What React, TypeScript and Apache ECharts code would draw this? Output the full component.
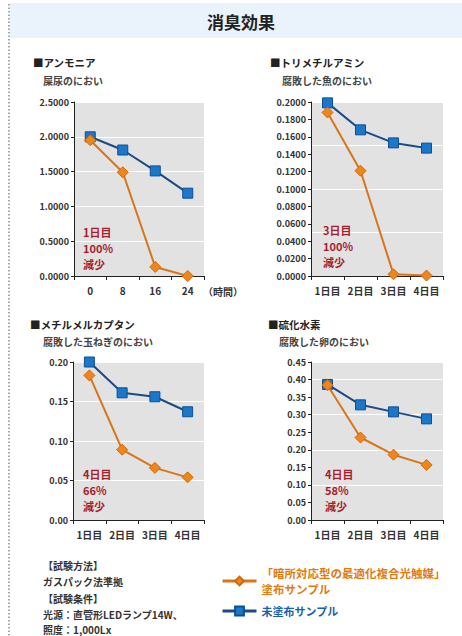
import React, { useEffect, useRef } from "react";
import * as echarts from "echarts";

const hourCats = ["0", "8", "16", "24"];
const dayCats = ["1日目", "2日目", "3日目", "4日目"];

const ammoniaCoated = [1.95, 1.49, 0.13, 0.0];
const ammoniaUncoated = [2.0, 1.81, 1.51, 1.19];
const tmaCoated = [0.188, 0.121, 0.002, 0.0005];
const tmaUncoated = [0.199, 0.168, 0.153, 0.147];
const mmCoated = [0.183, 0.089, 0.066, 0.054];
const mmUncoated = [0.2, 0.161, 0.156, 0.137];
const h2sCoated = [0.384, 0.235, 0.186, 0.157];
const h2sUncoated = [0.386, 0.328, 0.308, 0.288];

const coatedName = "coated";
const uncoatedName = "uncoated";
const coatedLabel = "「暗所対応型の最適化複合光触媒」\n塗布サンプル";
const uncoatedLabel = "未塗布サンプル";

const chartTitles = ["■アンモニア", "■トリメチルアミン", "■メチルメルカプタン", "■硫化水素"];
const chartSubtitles = ["屎尿のにおい", "腐敗した魚のにおい", "腐敗した玉ねぎのにおい", "腐敗した卵のにおい"];
const notes = [
  ["1日目", "100%", "減少"],
  ["3日目", "100%", "減少"],
  ["4日目", "66%", "減少"],
  ["4日目", "58%", "減少"],
];
const methodLines = ["【試験方法】", "ガスパック法準拠", "【試験条件】", "光源：直管形LEDランプ14W、", "照度：1,000Lx"];

const FONT = '"Noto Sans CJK JP", "Noto Sans", sans-serif';
const ORANGE_LINE = "#d8751a";
const ORANGE_FILL = "#f08519";
const BLUE_LINE = "#1c4a84";
const BLUE_FILL = "#1b77c9";
const BLUE_BORDER = "#0e4f92";
const NOTE_RED = "#a71e2b";

export default function App() {
  const ref = useRef<HTMLDivElement>(null);
  useEffect(() => {
    if (!ref.current) return;
    const chart = echarts.init(ref.current, null, { renderer: "svg" });

    const grids = [
      { left: 74, top: 102, width: 130, height: 174 },
      { left: 311, top: 102, width: 132, height: 174 },
      { left: 73, top: 362, width: 131, height: 158 },
      { left: 311, top: 362, width: 132, height: 158 },
    ];
    const yConf = [
      { max: 2.5, interval: 0.5, grid: 0.5, dec: 4 },
      { max: 0.2, interval: 0.02, grid: 0.05, dec: 4 },
      { max: 0.2, interval: 0.05, grid: 0.05, dec: 2 },
      { max: 0.45, interval: 0.05, grid: 0.1, dec: 2 },
    ];
    const cats = [hourCats, dayCats, dayCats, dayCats];
    const coated = [ammoniaCoated, tmaCoated, mmCoated, h2sCoated];
    const uncoated = [ammoniaUncoated, tmaUncoated, mmUncoated, h2sUncoated];

    const xAxis = grids.map((_, i) => ({
      type: "category",
      gridIndex: i,
      data: cats[i],
      boundaryGap: true,
      axisLine: { show: true, lineStyle: { color: "#222", width: 1 } },
      axisTick: { show: true, length: 4, lineStyle: { color: "#222" } },
      axisLabel: {
        interval: 0,
        color: "#333",
        fontSize: 10,
        fontWeight: "bold",
        fontFamily: FONT,
        margin: 9,
      },
      splitLine: { show: false },
    }));
    const yAxis: any[] = [];
    grids.forEach((_, i) => {
      const c = yConf[i];
      yAxis.push({
        type: "value",
        gridIndex: i,
        min: 0,
        max: c.max,
        interval: c.interval,
        position: "left",
        axisLine: { show: true, lineStyle: { color: "#222", width: 1 } },
        axisTick: { show: true, length: 3, lineStyle: { color: "#222" } },
        axisLabel: {
          color: "#333",
          fontSize: 9,
          fontWeight: "bold",
          fontFamily: FONT,
          margin: 5,
          formatter: (v: number) => v.toFixed(c.dec),
        },
        splitLine: { show: false },
      });
    });
    grids.forEach((_, i) => {
      const c = yConf[i];
      yAxis.push({
        type: "value",
        gridIndex: i,
        min: 0,
        max: c.max,
        interval: c.grid,
        position: "left",
        axisLine: { show: false },
        axisTick: { show: false },
        axisLabel: { show: false },
        splitLine: { show: true, lineStyle: { color: "#ffffff", width: 1.2 } },
      });
    });

    const series: any[] = [];
    grids.forEach((_, i) => {
      series.push({
        name: uncoatedName,
        type: "line",
        xAxisIndex: i,
        yAxisIndex: i,
        data: uncoated[i],
        symbol: "rect",
        symbolSize: 10,
        lineStyle: { color: BLUE_LINE, width: 2 },
        itemStyle: { color: BLUE_FILL, borderColor: BLUE_BORDER, borderWidth: 1 },
        z: 3,
      });
      series.push({
        name: coatedName,
        type: "line",
        xAxisIndex: i,
        yAxisIndex: i,
        data: coated[i],
        symbol: "diamond",
        symbolSize: 11,
        lineStyle: { color: ORANGE_LINE, width: 2 },
        itemStyle: { color: ORANGE_FILL, borderColor: "#d0680c", borderWidth: 1 },
        z: 4,
      });
    });

    const titlePos = [
      [33, 62],
      [270, 62],
      [30, 324],
      [268, 324],
    ];
    const subPos = [
      [43, 80],
      [282, 80],
      [43, 341],
      [279, 341],
    ];
    const notePos = [
      [83, 232],
      [323, 230],
      [83, 474],
      [325, 474],
    ];

    const graphic: any[] = [
      {
        type: "rect",
        shape: { x: 10, y: 3, width: 452, height: 35 },
        style: { fill: "#eaf3fb" },
        silent: true,
      },
      {
        type: "line",
        shape: { x1: 9, y1: 4, x2: 9, y2: 636 },
        style: { stroke: "#8a8a8a", lineWidth: 1.5, lineDash: [1.5, 2] },
        silent: true,
      },
      {
        type: "text",
        x: 241,
        y: 21,
        style: {
          text: "消臭効果",
          font: `bold 17px ${FONT}`,
          fill: "#222",
          textAlign: "center",
          textVerticalAlign: "middle",
          verticalAlign: "middle",
        },
      },
      {
        type: "text",
        x: 203,
        y: 291,
        style: {
          text: "（時間）",
          font: `bold 10px ${FONT}`,
          fill: "#333",
          textAlign: "left",
          textVerticalAlign: "middle",
          verticalAlign: "middle",
        },
      },
    ];
    chartTitles.forEach((t, i) => {
      graphic.push({
        type: "text",
        x: titlePos[i][0],
        y: titlePos[i][1],
        style: {
          text: t,
          font: `bold 10.5px ${FONT}`,
          fill: "#222",
          textVerticalAlign: "middle",
          verticalAlign: "middle",
        },
      });
      graphic.push({
        type: "text",
        x: subPos[i][0],
        y: subPos[i][1],
        style: {
          text: chartSubtitles[i],
          font: `bold 10px ${FONT}`,
          fill: "#444",
          textVerticalAlign: "middle",
          verticalAlign: "middle",
        },
      });
      notes[i].forEach((line, k) => {
        graphic.push({
          type: "text",
          x: notePos[i][0],
          y: notePos[i][1] + k * 16,
          z: 10,
          style: {
            text: line,
            font: `bold 11px ${FONT}`,
            fill: NOTE_RED,
            textVerticalAlign: "middle",
            verticalAlign: "middle",
          },
        });
      });
    });
    const methodY = [565, 581, 598, 614, 629];
    methodLines.forEach((t, i) => {
      graphic.push({
        type: "text",
        x: 43,
        y: methodY[i],
        style: {
          text: t,
          font: `bold 10px ${FONT}`,
          fill: "#333",
          textVerticalAlign: "middle",
          verticalAlign: "middle",
        },
      });
    });

    chart.setOption({
      animation: false,
      backgroundColor: "#ffffff",
      grid: grids.map((g) => ({
        ...g,
        show: true,
        backgroundColor: "#e2e2e2",
        borderWidth: 0,
        containLabel: false,
      })),
      xAxis,
      yAxis,
      series,
      legend: {
        orient: "vertical",
        left: 216,
        top: 560,
        itemWidth: 34,
        itemHeight: 11,
        itemGap: 6,
        selectedMode: false,
        lineStyle: { width: 3 },
        data: [
          {
            name: coatedName,
            textStyle: { color: "#e27a10", fontWeight: "bold", fontSize: 11.5, fontFamily: FONT, lineHeight: 16 },
          },
          {
            name: uncoatedName,
            textStyle: { color: "#1d5fa8", fontWeight: "bold", fontSize: 11, fontFamily: FONT, lineHeight: 16 },
          },
        ],
        formatter: (n: string) => (n === coatedName ? coatedLabel : uncoatedLabel),
      },
      graphic,
    });
    return () => chart.dispose();
  }, []);
  return (
    <div
      ref={ref}
      style={{ position: "fixed", left: 0, top: 0, width: 462, height: 636, background: "#fff" }}
    />
  );
}
